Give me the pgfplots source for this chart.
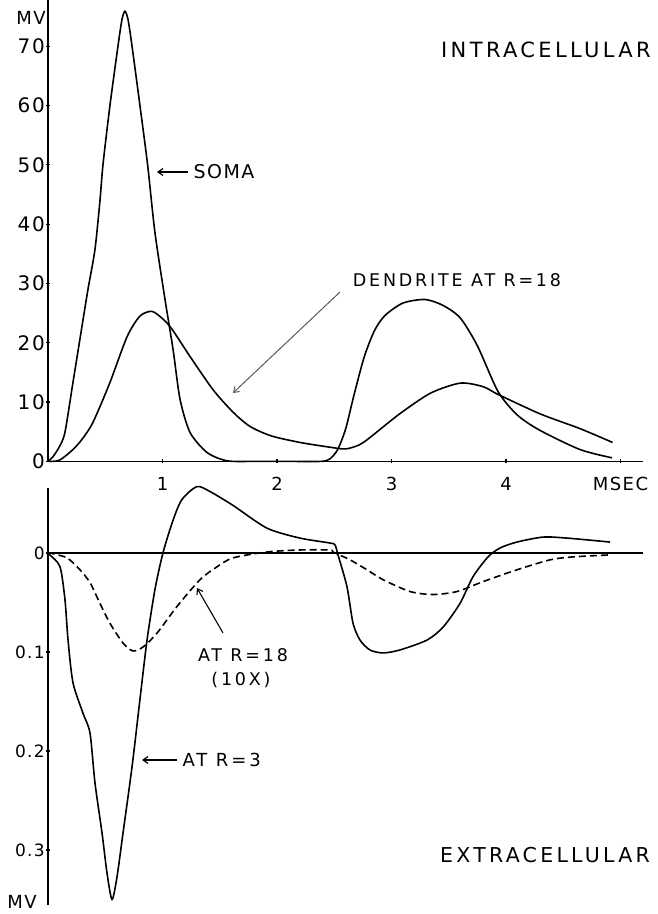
\documentclass[border=0pt]{standalone}
\usepackage{fontspec}
\setmainfont{DejaVu Sans}[LetterSpace=8]
\newfontfamily\wide{DejaVu Sans}[LetterSpace=16]
\usepackage{pgfplots}
\pgfplotsset{compat=1.18}
\usetikzlibrary{arrows.meta}

\pgfplotsset{
  trace/.style={black, line width=1.6pt, smooth, tension=0.45},
  panel/.style={
    scale only axis, clip=false,
    width=595.4pt, xmin=0, xmax=5.2,
    tick align=inside, major tick length=4pt,
    tick style={line width=1.2pt, black},
    yticklabel style={inner sep=0pt, xshift=-1pt},
  },
}

\begin{document}
\begin{tikzpicture}[x=1pt,y=1pt]

% intracellular
\begin{axis}[panel, anchor=north west, at={(48pt,914pt)}, height=461.4pt,
    ymin=0, ymax=77.8,
    axis x line=bottom, axis y line=left,
    axis line style={-, line width=1.4pt},
    x axis line style={-}, y axis line style={-},
    xtick={1,2,3,4,5}, xticklabels={1,2,3,4,MSEC},
    ytick={0,10,...,70}, yticklabels={0,10,20,30,40,50,60,70},
    xticklabel style={inner sep=0pt, yshift=-14pt, font=\fontsize{18}{20}\selectfont},
    yticklabel style={font=\fontsize{20}{22}\selectfont},
]
% soma
\addplot[trace] coordinates {
 (0,0) (0.044,0.8) (0.1,2.5) (0.148,4.9) (0.218,13.3) (0.297,22.8) (0.349,29)
 (0.41,35.7) (0.454,44) (0.48,50) (0.541,60) (0.611,70) (0.646,74.5) (0.672,75.9)
 (0.699,74.5) (0.734,70) (0.803,60) (0.87,50) (0.934,38.6) (1.022,27.3) (1.092,18.9)
 (1.153,10.5) (1.24,4.9) (1.389,1.5) (1.563,0.1) (1.8,0) (2.1,0) (2.38,0)
 (2.46,0.4) (2.53,2) (2.6,5.5) (2.67,11) (2.76,17.5) (2.85,22) (2.943,24.6) (3.1,26.7)
 (3.293,27.3) (3.45,26.3) (3.6,24.2) (3.75,19.5) (3.93,11.8) (4.1,7.8) (4.3,5.2)
 (4.646,2) (4.926,0.6)
};
% dendrite at R=18
\addplot[trace] coordinates {
 (0,0) (0.1,0.2) (0.218,2) (0.3,3.8) (0.393,6.6) (0.541,13.3) (0.69,21) (0.803,24.5)
 (0.908,25.3) (1.004,24) (1.083,22.3) (1.24,17.7) (1.441,12.1) (1.616,8.3) (1.764,5.9)
 (1.95,4.3) (2.2,3.2) (2.46,2.4) (2.6,2.1) (2.72,2.8) (2.81,4) (3.07,8) (3.34,11.5)
 (3.6,13.2) (3.8,12.6) (3.93,11.3) (4.3,8) (4.65,5.5) (4.93,3.2)
};
\end{axis}

% extracellular
\begin{axis}[panel, anchor=south west, at={(48pt,8.6pt)}, height=417.8pt,
    ymin=-0.356, ymax=0.066,
    axis x line=none, axis y line=left,
    axis line style={-, line width=1.4pt}, y axis line style={-},
    xtick=\empty,
    ytick={-0.3,-0.2,-0.1,0}, yticklabels={0.3,0.2,0.1,0},
    yticklabel style={font=\fontsize{17}{19}\selectfont},
]
\addplot[black, line width=1.6pt] coordinates {(0,0) (5.2,0)};
% at R=3
\addplot[trace] coordinates {
 (0,0) (0.017,-0.002) (0.105,-0.014) (0.148,-0.047) (0.175,-0.088) (0.218,-0.131)
 (0.306,-0.162) (0.367,-0.182) (0.41,-0.232) (0.472,-0.283) (0.515,-0.323)
 (0.559,-0.35) (0.603,-0.327) (0.655,-0.283) (0.734,-0.216) (0.803,-0.148)
 (0.865,-0.088) (0.934,-0.037) (1.004,0) (1.092,0.033) (1.17,0.054) (1.301,0.067)
 (1.415,0.062) (1.616,0.048) (1.913,0.025) (2.201,0.015) (2.463,0.010) (2.507,0.008)
 (2.533,-0.002) (2.611,-0.034) (2.664,-0.071) (2.725,-0.088) (2.812,-0.098)
 (2.926,-0.101) (3.074,-0.098) (3.31,-0.088) (3.45,-0.075) (3.598,-0.051)
 (3.712,-0.024) (3.843,-0.004) (3.948,0.005) (4.096,0.011) (4.323,0.016)
 (4.533,0.015) (4.908,0.011)
};
% at R=18 (10x)
\addplot[trace, dash pattern=on 7pt off 4pt] coordinates {
 (0,0) (0.017,0) (0.166,-0.005) (0.279,-0.017) (0.367,-0.03) (0.454,-0.051)
 (0.541,-0.071) (0.655,-0.091) (0.742,-0.099) (0.83,-0.095) (0.952,-0.081)
 (1.127,-0.054) (1.328,-0.027) (1.476,-0.014) (1.616,-0.005) (1.913,0.001)
 (2.201,0.003) (2.463,0.003) (2.489,0.001) (2.638,-0.007) (2.786,-0.017)
 (2.926,-0.027) (3.162,-0.039) (3.362,-0.042) (3.572,-0.039) (3.799,-0.029)
 (4.096,-0.017) (4.384,-0.007) (4.585,-0.004) (4.908,-0.002)
};
\end{axis}

% labels and arrows
\node[font=\fontsize{18}{20}\selectfont] at (31,896) {MV};
\node[font=\fontsize{18}{20}\selectfont] at (22,12) {MV};
\node[font=\wide\fontsize{21}{24}\selectfont] at (546,864) {INTRACELLULAR};
\node[font=\wide\fontsize{20.5}{24}\selectfont] at (545,59) {EXTRACELLULAR};

\draw[line width=1.2pt, -{Straight Barb[length=5pt,width=7pt]}] (188,742) -- (157,742);
\node[anchor=west, font=\fontsize{19}{21}\selectfont] at (190,742) {SOMA};

\node[font=\wide\fontsize{17.5}{20}\selectfont] at (457,634) {DENDRITE AT R=18};
\draw[black!65, line width=1pt, -{Straight Barb[length=5pt,width=7pt]}] (340,622) -- (233,521);

\node[font=\wide\fontsize{17.5}{20}\selectfont] at (243,259) {AT R=18};
\node[font=\wide\fontsize{17.5}{20}\selectfont] at (241,234) {(10X)};
\draw[line width=1.1pt, -{Straight Barb[length=5pt,width=7pt]}] (223,281) -- (197,326);

\draw[line width=1.2pt, -{Straight Barb[length=5pt,width=7pt]}] (177,154) -- (142,154);
\node[anchor=west, font=\wide\fontsize{18}{20}\selectfont] at (179,154) {AT R=3};

\pgfresetboundingbox
\useasboundingbox (0,0) rectangle (657,914);
\end{tikzpicture}
\end{document}
